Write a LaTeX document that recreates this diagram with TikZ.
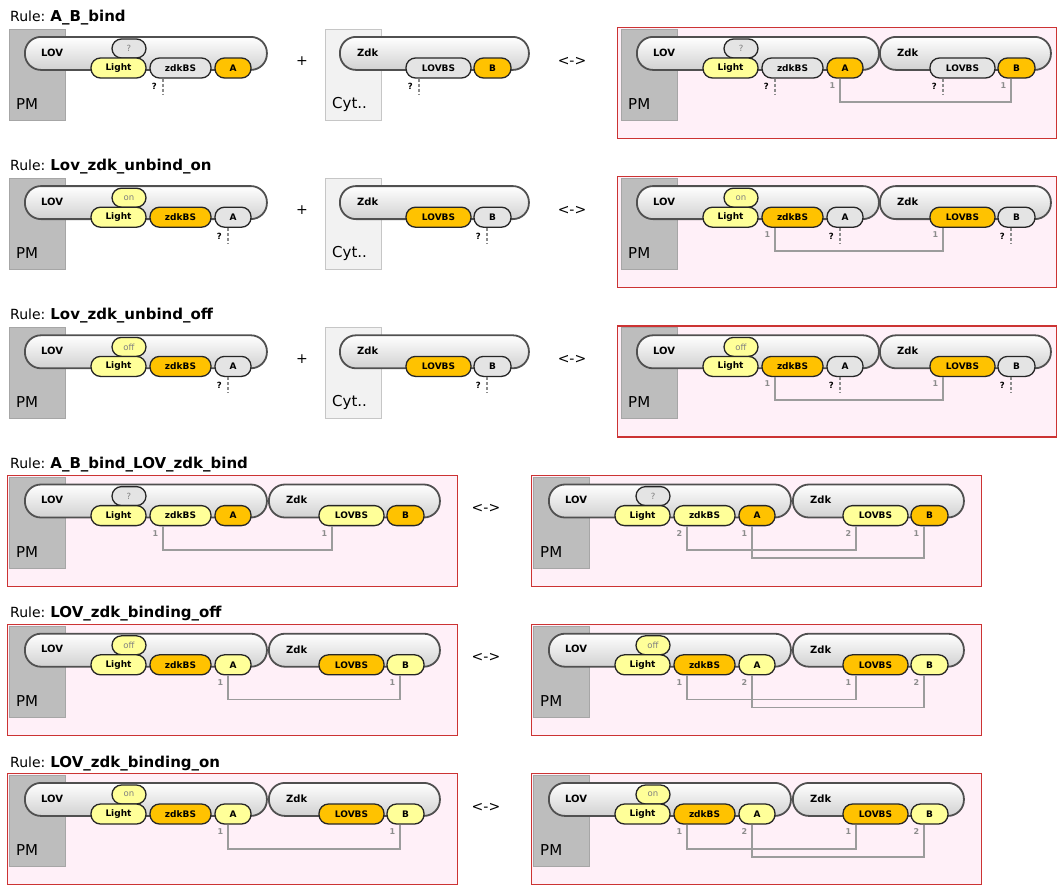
\documentclass[tikz,border=0pt]{standalone}
\usepackage{fontspec}
\setmainfont{DejaVu Sans}

\definecolor{pmfill}{HTML}{BDBDBD}
\definecolor{pmline}{HTML}{A6A6A6}
\definecolor{cytfill}{HTML}{F2F2F2}
\definecolor{cytline}{HTML}{C6C6C6}
\definecolor{rulefill}{HTML}{FFF0F8}
\definecolor{ruleline}{HTML}{CC3333}
\definecolor{siteY}{HTML}{FFFF99}
\definecolor{siteO}{HTML}{FFC200}
\definecolor{siteG}{HTML}{E4E4E4}
\definecolor{molline}{HTML}{505050}
\definecolor{bondgray}{HTML}{9C9C9C}

\tikzset{
  ruletitle/.style={inner sep=0pt, font=\fontsize{14}{16}\selectfont},
  pmbox/.style={draw=pmline, fill=pmfill, line width=0.8pt, inner sep=0pt, anchor=north west},
  cytbox/.style={draw=cytline, fill=cytfill, line width=0.8pt, inner sep=0pt, anchor=north west},
  complbl/.style={inner sep=0pt, anchor=west, font=\fontsize{15}{17}\selectfont},
  rulebox/.style={draw=ruleline, fill=rulefill, line width=1.2pt, inner sep=0pt, anchor=north west, minimum height=111pt},
  molpill/.style={draw=molline, line width=1.8pt, rounded corners=16pt, top color=white, middle color=white, bottom color=black!18, minimum height=33pt, inner sep=0pt, anchor=north west},
  molname/.style={inner sep=0pt, anchor=west, font=\bfseries\fontsize{10}{12}\selectfont},
  sitebox/.style={draw=black!85, line width=1.3pt, rounded corners=9.5pt, minimum height=20pt, inner sep=0pt, font=\bfseries\fontsize{9}{10}\selectfont},
  statebox/.style={sitebox, minimum height=19pt, font=\fontsize{8.5}{10}\selectfont, text=black!50},
  bondline/.style={draw=bondgray, line width=1.8pt},
  bondlbl/.style={inner sep=0pt, text=black!45, font=\bfseries\fontsize{8}{9}\selectfont},
  stubline/.style={draw=black!45, line width=2pt, dash pattern=on 3pt off 2pt},
  stublbl/.style={inner sep=0pt, font=\bfseries\fontsize{8.5}{9}\selectfont},
  optext/.style={inner sep=0pt, font=\fontsize{14}{16}\selectfont}
}

% rule heading: #1 name, #2 top of the rule row, #3 rule name
\newcommand\rulehead[3]{%
  \node[ruletitle, anchor=base west] (#1) at (10,#2-6)
    {Rule:\hspace{5pt}{\bfseries\fontsize{15}{16}\selectfont #3}};}

% compartment: #1 name, #2 left, #3 top of the rule row, #4 style, #5 label
\newcommand\compbox[5]{%
  \node[#4, minimum width=56pt, minimum height=91pt] (#1) at (#2,#3+2) {};
  \node[complbl] (#1-t) at (#2+7,#3+77) {#5};}

% LOV molecule: #1 prefix, #2 compartment left, #3 compartment top,
% #4 state text, #5 state colour, #6 zdkBS colour, #7 A colour
\newcommand\lovmol[7]{%
  \begin{scope}[shift={(#2,#3)}]
    \node[molpill, minimum width=242pt] (#1-mol) at (15,7) {};
    \node[molname] (#1-name) at (32,23.5) {LOV};
    \node[statebox, fill=#5, minimum width=34pt] (#1-st) at (120,19.5) {#4};
    \node[sitebox, fill=siteY, minimum width=55pt] (#1-light) at (109.5,39) {Light};
    \node[sitebox, fill=#6, minimum width=61pt] (#1-zbs) at (171.5,39) {zdkBS};
    \node[sitebox, fill=#7, minimum width=36pt] (#1-a) at (224,39) {A};
  \end{scope}}

% Zdk molecule: #1 prefix, #2 left of the pill, #3 compartment top,
% #4 pill width, #5 offset of LOVBS, #6 LOVBS colour, #7 B colour
\newcommand\zdkmol[7]{%
  \begin{scope}[shift={(#2,#3)}]
    \node[molpill, minimum width=#4pt] (#1-mol) at (0,7) {};
    \node[molname] (#1-name) at (18,23.5) {Zdk};
    \node[sitebox, fill=#6, minimum width=65pt] (#1-lovbs) at (#5+32.5,39) {LOVBS};
    \node[sitebox, fill=#7, minimum width=37pt] (#1-b) at (#5+86.5,39) {B};
  \end{scope}}

% unknown binding state below a site
\newcommand\stub[1]{%
  \draw[stubline] ([xshift=14pt]#1.south west) -- ++(0,16);
  \node[stublbl] (#1-q) at ([xshift=5pt,yshift=-8pt]#1.south west) {?};}

% bond: #1 site, #2 site, #3 depth, #4 and #5 bond labels
\newcommand\bond[5]{%
  \draw[bondline] ([xshift=14pt]#1.south west) -- ++(0,#3) -| ([xshift=14pt]#2.south west);
  \node[bondlbl] (#1-#4) at ([xshift=6pt,yshift=-7pt]#1.south west) {#4};
  \node[bondlbl] (#2-#5) at ([xshift=6pt,yshift=-7pt]#2.south west) {#5};}

\begin{document}
\begin{tikzpicture}[x=1pt,y=-1pt]
\useasboundingbox (0,0) rectangle (1057,884);
\fill[white] (0,0) rectangle (1057,884);

% ---------- A_B_bind ----------
\def\Y{27}
\rulehead{t1}{\Y}{A\_B\_bind}
\compbox{pm1}{9}{\Y}{pmbox}{PM}
\lovmol{a1}{9}{\Y+2}{?}{siteG}{siteG}{siteO}
\stub{a1-zbs}
\node[optext] (plus1) at (302,\Y+34) {+};
\compbox{cy1}{325}{\Y}{cytbox}{Cyt..}
\zdkmol{b1}{339}{\Y+2}{189}{67}{siteG}{siteO}
\stub{b1-lovbs}
\node[optext] (rev1) at (572,\Y+34) {<->};
\node[rulebox, minimum width=439pt] (rb1) at (617,\Y) {};
\compbox{pm1r}{621}{\Y}{pmbox}{PM}
\lovmol{c1}{621}{\Y+2}{?}{siteG}{siteG}{siteO}
\zdkmol{d1}{879}{\Y+2}{171}{51}{siteG}{siteO}
\stub{c1-zbs}
\stub{d1-lovbs}
\bond{c1-a}{d1-b}{23}{1}{1}

% ---------- Lov_zdk_unbind_on ----------
\def\Y{176.2}
\rulehead{t2}{\Y}{Lov\_zdk\_unbind\_on}
\compbox{pm2}{9}{\Y}{pmbox}{PM}
\lovmol{a2}{9}{\Y+2}{on}{siteY}{siteO}{siteG}
\stub{a2-a}
\node[optext] (plus2) at (302,\Y+34) {+};
\compbox{cy2}{325}{\Y}{cytbox}{Cyt..}
\zdkmol{b2}{339}{\Y+2}{189}{67}{siteO}{siteG}
\stub{b2-b}
\node[optext] (rev2) at (572,\Y+34) {<->};
\node[rulebox, minimum width=439pt] (rb2) at (617,\Y) {};
\compbox{pm2r}{621}{\Y}{pmbox}{PM}
\lovmol{c2}{621}{\Y+2}{on}{siteY}{siteO}{siteG}
\zdkmol{d2}{879}{\Y+2}{171}{51}{siteO}{siteG}
\stub{c2-a}
\stub{d2-b}
\bond{c2-zbs}{d2-lovbs}{23}{1}{1}

% ---------- Lov_zdk_unbind_off ----------
\def\Y{325.4}
\rulehead{t3}{\Y}{Lov\_zdk\_unbind\_off}
\compbox{pm3}{9}{\Y}{pmbox}{PM}
\lovmol{a3}{9}{\Y+2}{off}{siteY}{siteO}{siteG}
\stub{a3-a}
\node[optext] (plus3) at (302,\Y+34) {+};
\compbox{cy3}{325}{\Y}{cytbox}{Cyt..}
\zdkmol{b3}{339}{\Y+2}{189}{67}{siteO}{siteG}
\stub{b3-b}
\node[optext] (rev3) at (572,\Y+34) {<->};
\node[rulebox, minimum width=439pt] (rb3) at (617,\Y) {};
\compbox{pm3r}{621}{\Y}{pmbox}{PM}
\lovmol{c3}{621}{\Y+2}{off}{siteY}{siteO}{siteG}
\zdkmol{d3}{879}{\Y+2}{171}{51}{siteO}{siteG}
\stub{c3-a}
\stub{d3-b}
\bond{c3-zbs}{d3-lovbs}{23}{1}{1}

% ---------- A_B_bind_LOV_zdk_bind ----------
\def\Y{474.6}
\rulehead{t4}{\Y}{A\_B\_bind\_LOV\_zdk\_bind}
\node[rulebox, minimum width=450pt] (rb4l) at (7,\Y) {};
\compbox{pm4}{9}{\Y}{pmbox}{PM}
\lovmol{a4}{9}{\Y+2}{?}{siteG}{siteY}{siteO}
\zdkmol{b4}{268}{\Y+2}{171}{51}{siteY}{siteO}
\bond{a4-zbs}{b4-lovbs}{24}{1}{1}
\node[optext] (rev4) at (486,\Y+34) {<->};
\node[rulebox, minimum width=450pt] (rb4r) at (531,\Y) {};
\compbox{pm4r}{533}{\Y}{pmbox}{PM}
\lovmol{c4}{533}{\Y+2}{?}{siteG}{siteY}{siteO}
\zdkmol{d4}{792}{\Y+2}{171}{51}{siteY}{siteO}
\bond{c4-zbs}{d4-lovbs}{24}{2}{2}
\bond{c4-a}{d4-b}{32}{1}{1}

% ---------- LOV_zdk_binding_off ----------
\def\Y{623.8}
\rulehead{t5}{\Y}{LOV\_zdk\_binding\_off}
\node[rulebox, minimum width=450pt] (rb5l) at (7,\Y) {};
\compbox{pm5}{9}{\Y}{pmbox}{PM}
\lovmol{a5}{9}{\Y+2}{off}{siteY}{siteO}{siteY}
\zdkmol{b5}{268}{\Y+2}{171}{51}{siteO}{siteY}
\bond{a5-a}{b5-b}{24}{1}{1}
\node[optext] (rev5) at (486,\Y+34) {<->};
\node[rulebox, minimum width=450pt] (rb5r) at (531,\Y) {};
\compbox{pm5r}{533}{\Y}{pmbox}{PM}
\lovmol{c5}{533}{\Y+2}{off}{siteY}{siteO}{siteY}
\zdkmol{d5}{792}{\Y+2}{171}{51}{siteO}{siteY}
\bond{c5-zbs}{d5-lovbs}{24}{1}{1}
\bond{c5-a}{d5-b}{32}{2}{2}

% ---------- LOV_zdk_binding_on ----------
\def\Y{773}
\rulehead{t6}{\Y}{LOV\_zdk\_binding\_on}
\node[rulebox, minimum width=450pt] (rb6l) at (7,\Y) {};
\compbox{pm6}{9}{\Y}{pmbox}{PM}
\lovmol{a6}{9}{\Y+2}{on}{siteY}{siteO}{siteY}
\zdkmol{b6}{268}{\Y+2}{171}{51}{siteO}{siteY}
\bond{a6-a}{b6-b}{24}{1}{1}
\node[optext] (rev6) at (486,\Y+34) {<->};
\node[rulebox, minimum width=450pt] (rb6r) at (531,\Y) {};
\compbox{pm6r}{533}{\Y}{pmbox}{PM}
\lovmol{c6}{533}{\Y+2}{on}{siteY}{siteO}{siteY}
\zdkmol{d6}{792}{\Y+2}{171}{51}{siteO}{siteY}
\bond{c6-zbs}{d6-lovbs}{24}{1}{1}
\bond{c6-a}{d6-b}{32}{2}{2}

\end{tikzpicture}
\end{document}
